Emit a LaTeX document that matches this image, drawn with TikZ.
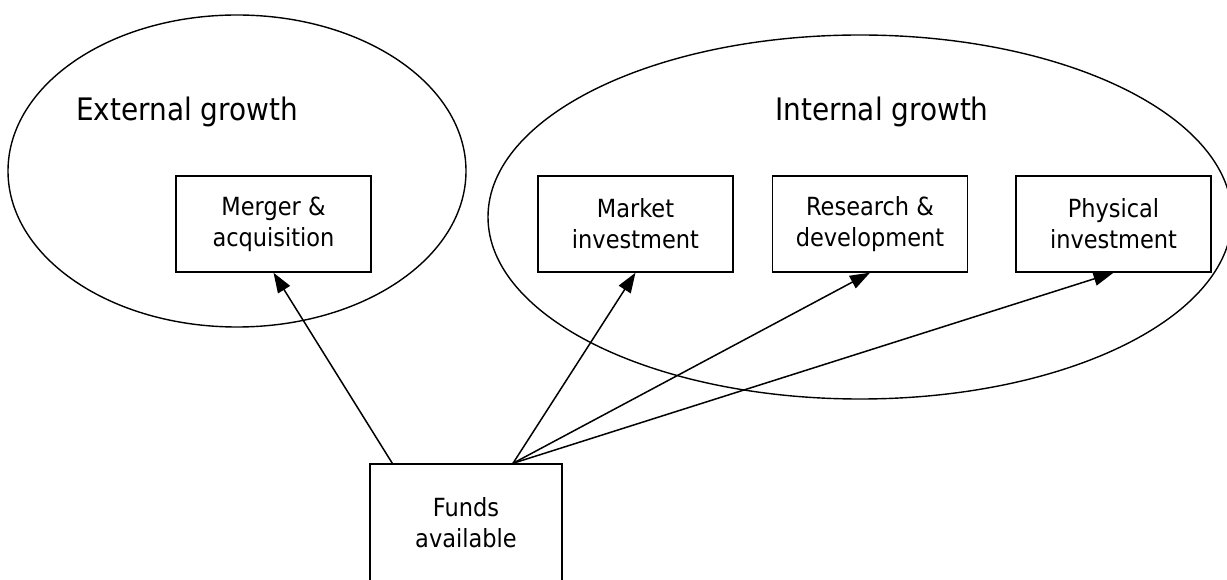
\documentclass[tikz,border=0pt]{standalone}
\usepackage{fontspec}
\setmainfont{DejaVu Sans Condensed}
\usetikzlibrary{arrows.meta,calc}

\begin{document}
\begin{tikzpicture}[x=1pt,y=1pt,
    inv/.style={draw, line width=1.4pt, minimum width=195pt, minimum height=96pt,
      align=center, font=\fontsize{25}{31}\selectfont, inner sep=0pt},
    grp/.style={anchor=base, font=\fontsize{31}{37}\selectfont},
    flow/.style={line width=1.5pt, -{Triangle[length=20pt,width=14pt]}}]
    \useasboundingbox (0,0) rectangle (1227,579);
    % the two groups of growth
    \draw[line width=1.4pt] (237,408) ellipse [x radius=229, y radius=156];
    \draw[line width=1.4pt] (860,362) ellipse [x radius=372, y radius=182];
    \node[grp] (ext) at (187,458) {External growth};
    \node[grp] (int) at (882,458) {Internal growth};
    % investments
    \node[inv] (merger) at (273.5,355) {Merger \&\\acquisition};
    \node[inv] (market) at (635.5,355) {Market\\investment};
    \node[inv] (rnd) at (870,355) {Research \&\\development};
    \node[inv] (phys) at (1113.5,355) {Physical\\investment};
    % source of funds
    \node[inv, minimum width=192pt, minimum height=118pt] (funds) at (466,56) {Funds\\available};
    \coordinate (fundsA) at ($(funds.north west)+(23,0)$);
    \coordinate (fundsB) at ($(funds.north)+(47,0)$);
    \draw[flow] (fundsA) -- (merger.south);
    \draw[flow] (fundsB) -- (market.south);
    \draw[flow] (fundsB) -- (rnd.south);
    \draw[flow] (fundsB) -- (phys.south);
\end{tikzpicture}
\end{document}
